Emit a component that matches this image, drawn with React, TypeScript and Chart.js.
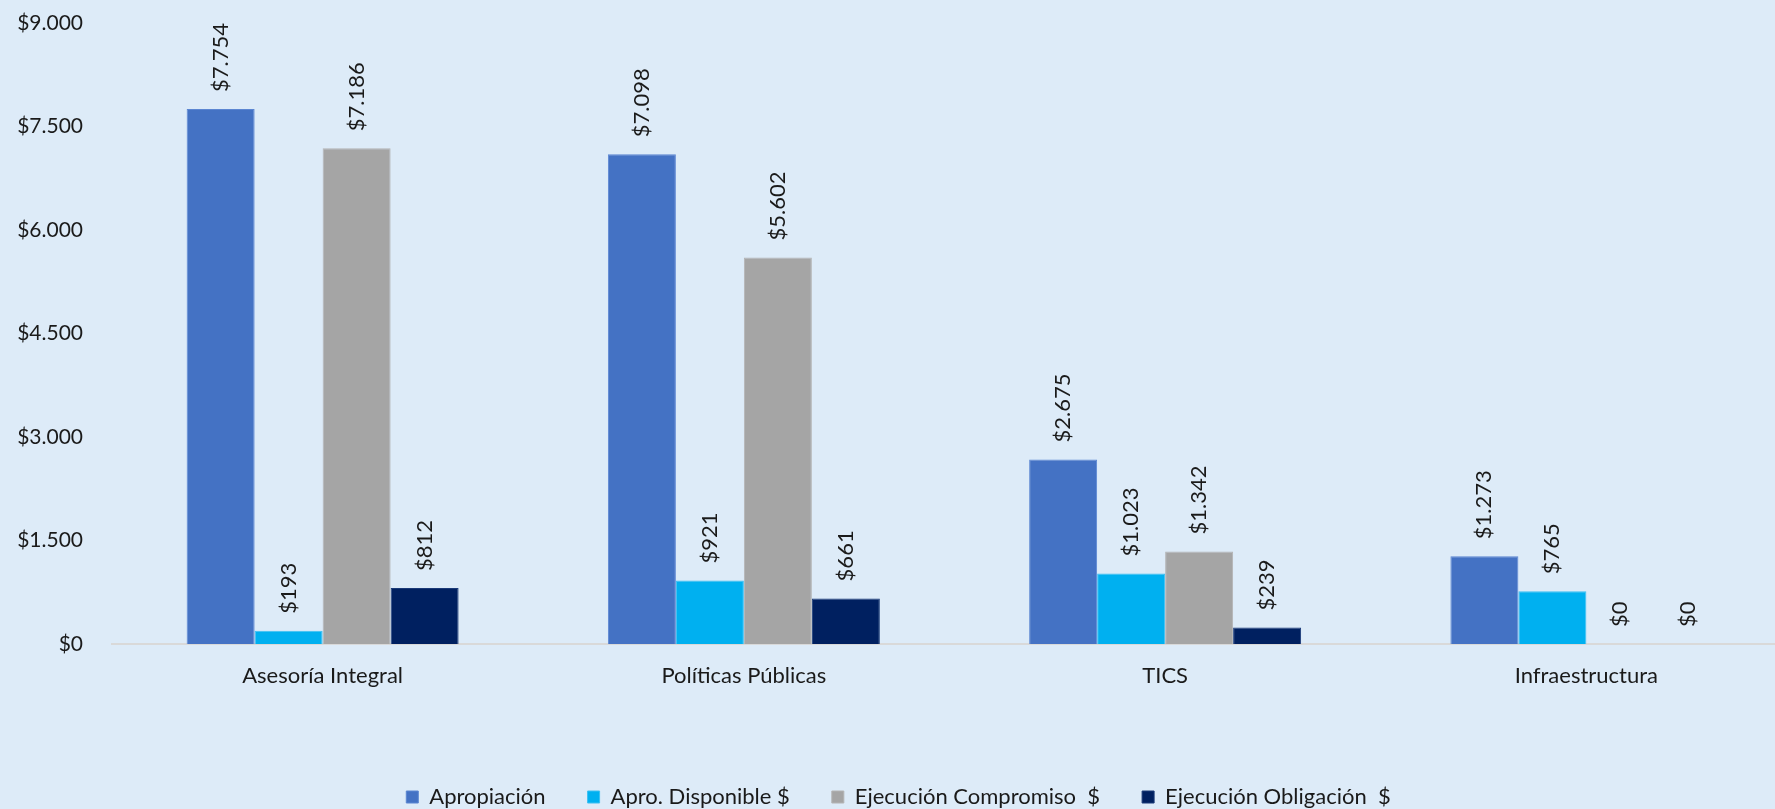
import React, { useEffect, useRef } from "react";
import { Chart, registerables } from "chart.js";

Chart.register(...registerables);

const categories = ["Asesoría Integral", "Políticas Públicas", "TICS", "Infraestructura"];
const seriesNames = ["Apropiación", "Apro. Disponible $", "Ejecución Compromiso  $", "Ejecución Obligación  $"];
const apropiacion = [7754, 7098, 2675, 1273];
const aproDisponible = [193, 921, 1023, 765];
const ejecCompromiso = [7186, 5602, 1342, 0];
const ejecObligacion = [812, 661, 239, 0];
const seriesColors = ["#4472C4", "#00B0F0", "#A5A5A5", "#002060"];
const seriesBorders = ["#5B86D2", "#3CC0F2", "#B4B4B4", "#1A3A78"];
const yTicks = [0, 1500, 3000, 4500, 6000, 7500, 9000];

const FONT = "Lato, 'Open Sans', sans-serif";
const BG = "#DDEBF8";

const fmt = (v: number) => "$" + Math.round(v).toString().replace(/\B(?=(\d{3})+(?!\d))/g, ".");

const barLabels = {
  id: "barLabels",
  afterDatasetsDraw(chart: any) {
    const ctx = chart.ctx;
    ctx.save();
    ctx.font = `22px ${FONT}`;
    ctx.fillStyle = "#1a1a1a";
    ctx.textAlign = "left";
    ctx.textBaseline = "middle";
    chart.data.datasets.forEach((ds: any, di: number) => {
      const meta = chart.getDatasetMeta(di);
      meta.data.forEach((el: any, i: number) => {
        const v = ds.data[i];
        ctx.save();
        ctx.translate(el.x, el.y - 17);
        ctx.rotate(-Math.PI / 2);
        ctx.fillText(fmt(v), 0, 0);
        ctx.restore();
      });
    });
    ctx.restore();
  },
};

export default function App() {
  const ref = useRef<HTMLCanvasElement | null>(null);
  useEffect(() => {
    document.body.style.margin = "0";
    document.body.style.overflow = "hidden";
    document.body.style.background = BG;
    const values = [apropiacion, aproDisponible, ejecCompromiso, ejecObligacion];
    const chart = new Chart(ref.current as HTMLCanvasElement, {
      type: "bar",
      data: {
        labels: categories,
        datasets: seriesNames.map((name, i) => ({
          label: name,
          data: values[i],
          backgroundColor: seriesColors[i],
          borderColor: seriesBorders[i],
          borderWidth: 1,
          categoryPercentage: 0.6456,
          barPercentage: 1,
        })),
      },
      options: {
        responsive: false,
        animation: false,
        layout: { padding: { top: 23, right: 3, left: 0, bottom: -9 } },
        plugins: {
          tooltip: { enabled: false },
          legend: {
            position: "bottom",
            labels: {
              boxWidth: 12,
              boxHeight: 12,
              padding: 42,
              color: "#1a1a1a",
              font: { family: FONT, size: 22 },
            },
          },
        },
        scales: {
          x: {
            grid: { display: false, drawTicks: false },
            border: { display: true, color: "#D9D9D9", width: 2 },
            ticks: { color: "#1a1a1a", padding: 19, font: { family: FONT, size: 22 } },
            afterFit: (s: any) => { s.height = 100; },
          },
          y: {
            min: 0,
            max: 9000,
            grid: { display: false, drawTicks: false },
            border: { display: false },
            afterBuildTicks: (s: any) => { s.ticks = yTicks.map((v) => ({ value: v })); },
            ticks: {
              color: "#1a1a1a",
              padding: 29,
              font: { family: FONT, size: 21 },
              callback: (v: any) => fmt(Number(v)),
            },
            afterFit: (s: any) => { s.width = 112; s.paddingTop = 0; s.paddingBottom = 0; },
          },
        },
      },
      plugins: [barLabels],
    });
    return () => chart.destroy();
  }, []);
  return (
    <div style={{ position: "fixed", left: 0, top: 0, width: 1775, height: 809, overflow: "hidden", background: BG }}>
      <canvas ref={ref} width={1800} height={809} style={{ display: "block" }} />
    </div>
  );
}
